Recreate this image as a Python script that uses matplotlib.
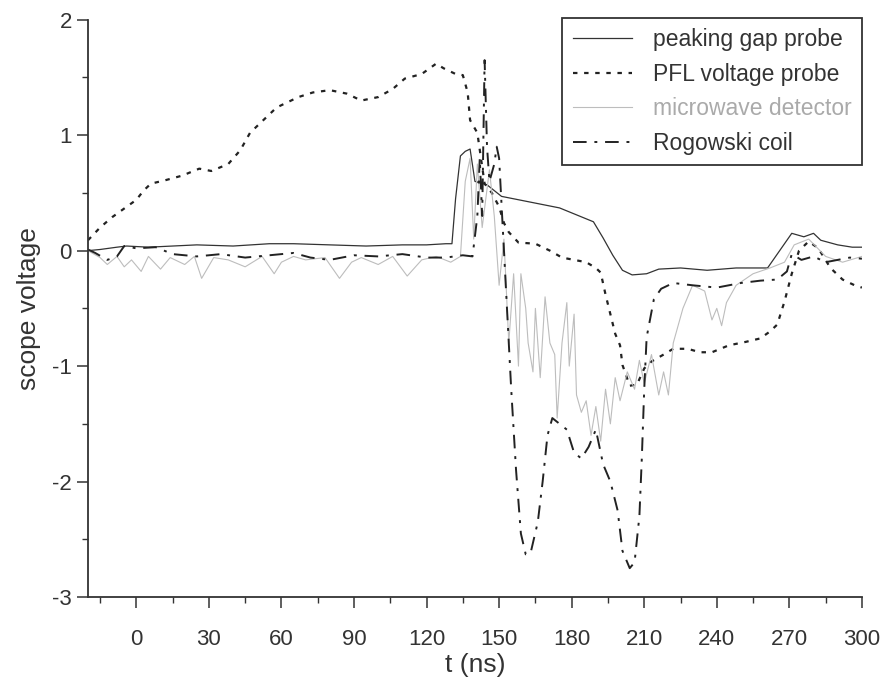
import numpy as np
import matplotlib
matplotlib.use("Agg")
import matplotlib.pyplot as plt
from matplotlib.ticker import MultipleLocator

plt.rcParams['font.family'] = ['Liberation Sans', 'DejaVu Sans']
plt.rcParams['axes.unicode_minus'] = False

# peaking gap probe (solid)
t_gap = [-20, -15, -8, -4, 5, 15, 25, 40, 55, 65, 80, 95, 110, 120, 128, 130.5,
         132, 134, 136, 138, 140, 145, 151, 163, 175, 189, 193, 197, 201, 205,
         211, 216, 225, 236, 248, 261, 266, 271, 276, 280, 283, 290, 296, 300]
v_gap = [0.0, 0.01, 0.03, 0.04, 0.03, 0.04, 0.05, 0.04, 0.06, 0.06, 0.05, 0.04,
         0.05, 0.05, 0.06, 0.06, 0.45, 0.82, 0.86, 0.88, 0.6, 0.57, 0.47, 0.42,
         0.37, 0.25, 0.11, -0.04, -0.17, -0.21, -0.2, -0.16, -0.15, -0.17, -0.15,
         -0.15, 0.0, 0.15, 0.12, 0.15, 0.09, 0.05, 0.03, 0.03]

# PFL voltage probe (dotted)
t_pfl = [-20, -15, -10, -4, 0, 3, 6, 12, 19, 26, 31, 38, 43, 47, 51, 58, 67, 73,
         80, 87, 93, 100, 106, 111, 118, 124, 127, 132, 135, 137, 138, 141, 144,
         147, 150, 152, 154, 158, 165, 171, 176, 181, 186, 190, 192, 194, 196,
         198, 200, 201, 203, 204, 207, 210, 213, 218, 222, 228, 233, 238, 245,
         252, 258, 262, 265, 268, 271, 274, 278, 282, 287, 292, 297, 300]
v_pfl = [0.09, 0.2, 0.29, 0.38, 0.44, 0.52, 0.58, 0.61, 0.65, 0.71, 0.69, 0.75,
         0.87, 1.02, 1.1, 1.24, 1.33, 1.37, 1.39, 1.36, 1.3, 1.33, 1.4, 1.49,
         1.53, 1.62, 1.58, 1.53, 1.52, 1.37, 1.13, 1.02, 0.58, 0.5, 0.38, 0.24,
         0.16, 0.07, 0.06, 0.0, -0.06, -0.08, -0.1, -0.15, -0.19, -0.38, -0.55,
         -0.72, -0.82, -0.99, -1.11, -1.17, -1.16, -1.02, -0.96, -0.9, -0.85,
         -0.85, -0.88, -0.88, -0.82, -0.79, -0.76, -0.7, -0.64, -0.44, -0.2,
         0.0, 0.08, 0.02, -0.15, -0.25, -0.3, -0.32]

# microwave detector (faint)
t_mw = [-20, -15, -12, -8, -5, -2, 2, 5, 10, 14, 20, 24, 27, 32, 38, 45, 52, 57,
        60, 65, 70, 78, 84, 89, 93, 100, 106, 112, 118, 124, 130, 134, 136, 138,
        139.5, 141, 143, 146, 148, 150, 152, 154, 156, 158, 159, 161, 162, 164,
        165, 167, 169, 171, 173, 174, 176, 178, 179, 181, 182, 184, 186, 188,
        190, 192, 194, 196, 198, 200, 203, 206, 208, 210, 213, 216, 218, 220,
        222, 226, 230, 235, 238, 240, 242, 244, 248, 255, 262, 268, 272, 278,
        285, 292, 300]
v_mw = [0.0, -0.06, -0.12, -0.05, -0.14, -0.08, -0.18, -0.05, -0.16, -0.06,
        -0.12, -0.05, -0.24, -0.06, -0.08, -0.14, -0.05, -0.2, -0.1, -0.05,
        -0.08, -0.06, -0.24, -0.1, -0.06, -0.12, -0.05, -0.22, -0.08, -0.05,
        -0.1, -0.05, 0.6, 0.8, 0.1, 0.75, 0.2, 0.7, 0.3, -0.3, 0.1, -0.8, -0.2,
        -1.0, -0.2, -0.5, -0.8, -1.05, -0.5, -1.1, -0.4, -0.8, -0.9, -1.45,
        -0.8, -0.45, -1.0, -0.55, -1.25, -1.4, -1.3, -1.6, -1.35, -1.65, -1.2,
        -1.5, -1.1, -1.3, -1.05, -1.2, -0.95, -1.15, -0.9, -1.25, -1.05, -1.25,
        -0.8, -0.5, -0.3, -0.35, -0.6, -0.5, -0.65, -0.45, -0.3, -0.2, -0.15,
        -0.1, 0.05, 0.1, -0.05, -0.1, -0.05]

# Rogowski coil (dash-dot)
t_rog = [-20, -17, -12, -8, -5, 0, 8, 15, 25, 35, 45, 55, 65, 72, 80, 90, 100,
         110, 120, 128, 135, 139, 141, 142, 143, 144, 145, 146, 148, 149, 150,
         151, 153, 155, 157, 159, 161, 163, 166, 168, 170, 172, 175, 178, 181,
         184, 187, 190, 193, 196, 199, 201, 204, 206, 208, 209, 210, 211, 214,
         217, 222, 230, 240, 250, 258, 265, 269, 271, 275, 280, 285, 290, 295, 300]
v_rog = [0.01, -0.02, -0.08, -0.05, 0.04, 0.02, 0.03, -0.03, -0.05, -0.03,
         -0.06, -0.04, -0.02, -0.06, -0.08, -0.04, -0.05, -0.03, -0.06, -0.06,
         -0.04, -0.05, 0.3, 0.8, 0.3, 1.65, 0.9, 0.6, 0.75, 0.9, 0.8, 0.4, -0.4,
         -1.2, -1.9, -2.45, -2.63, -2.62, -2.35, -2.0, -1.6, -1.45, -1.5, -1.55,
         -1.75, -1.8, -1.7, -1.55, -1.85, -2.0, -2.25, -2.6, -2.75, -2.7, -2.3,
         -1.8, -1.2, -0.75, -0.42, -0.33, -0.28, -0.3, -0.32, -0.28, -0.26,
         -0.25, -0.18, -0.03, -0.08, -0.05, -0.1, -0.08, -0.06, -0.07]

labels = ['peaking gap probe', 'PFL voltage probe', 'microwave detector', 'Rogowski coil']

fig = plt.figure(figsize=(8.84, 6.8), dpi=100)
ax = fig.add_axes([0.0995, 0.122, 0.8755, 0.849])

ax.plot(t_gap, v_gap, color='#333333', lw=0.9, label=labels[0])
ax.plot(t_pfl, v_pfl, color='#222222', lw=1.6, dashes=(2, 3), label=labels[1])
ax.plot(t_mw, v_mw, color='#bdbdbd', lw=0.8, label=labels[2])
ax.plot(t_rog, v_rog, color='#222222', lw=1.4, dashes=(7, 4, 1.5, 4), label=labels[3])

ax.set_xlim(-20, 300)
ax.set_ylim(-3, 2)
ax.xaxis.set_major_locator(MultipleLocator(30))
ax.xaxis.set_minor_locator(MultipleLocator(15))
ax.yaxis.set_major_locator(MultipleLocator(1))
ax.yaxis.set_minor_locator(MultipleLocator(0.5))

for s in ['top', 'right']:
    ax.spines[s].set_visible(False)
for s in ['left', 'bottom']:
    ax.spines[s].set_linewidth(1.3)
    ax.spines[s].set_color('#333333')

ax.tick_params(axis='both', which='major', direction='out', length=8, width=1.1,
               labelsize=16, colors='#333333')
ax.tick_params(axis='both', which='minor', direction='out', length=4, width=1.0,
               colors='#333333')
ax.tick_params(axis='x', which='major', pad=15)

ax.set_xlabel('t (ns)', fontsize=19, color='#333333', labelpad=2)
ax.set_ylabel('scope voltage', fontsize=19, color='#333333', labelpad=8)

leg = ax.legend(loc='upper right', bbox_to_anchor=(862 / 884, 1 - 18 / 680),
                bbox_transform=fig.transFigure, borderaxespad=0, fontsize=16.5,
                frameon=True, fancybox=False, framealpha=1, edgecolor='#333333',
                handlelength=2.6, handletextpad=0.9, labelspacing=0.5,
                borderpad=0.45)
leg.get_frame().set_linewidth(1.3)
for txt in leg.get_texts():
    txt.set_color('#333333')
leg.get_texts()[2].set_color('#aaaaaa')

fig.savefig('out.png', dpi=100)
